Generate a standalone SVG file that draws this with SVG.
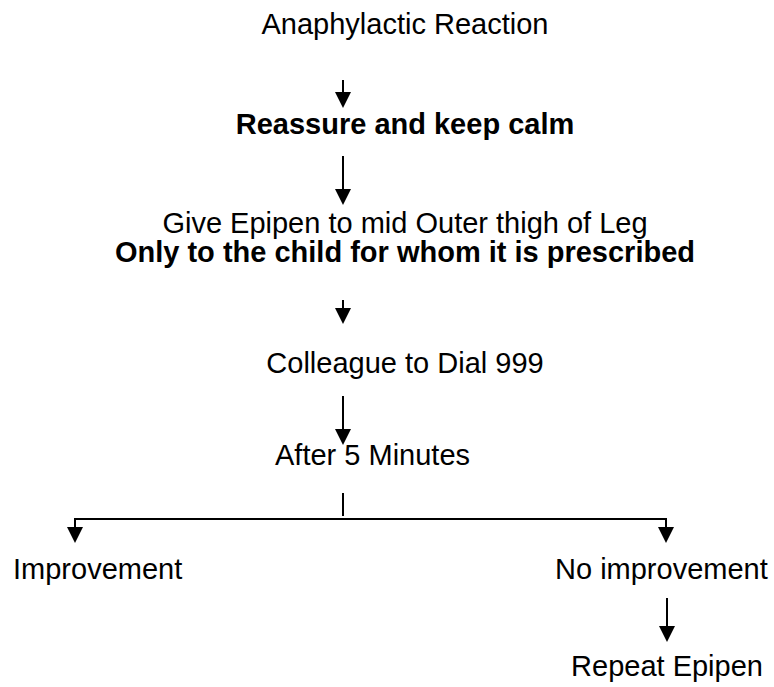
<svg xmlns="http://www.w3.org/2000/svg" width="774" height="687" viewBox="0 0 774 687">
<style>
text{font-family:"Liberation Sans",Arial,sans-serif;font-size:29px;fill:#000}
.b{font-weight:bold}
.c{text-anchor:middle}
.ln{stroke:#000;stroke-width:2;fill:none}
</style>
<defs>
<marker id="ah" markerUnits="userSpaceOnUse" viewBox="0 0 16 16" refX="0" refY="8" markerWidth="16" markerHeight="16" orient="auto">
<path d="M0,0 L16,8 L0,16 z" fill="#000"/>
</marker>
</defs>
<g id="n1"><text class="c" x="405" y="34">Anaphylactic Reaction</text></g>
<g id="n2"><text class="c b" x="405" y="134">Reassure and keep calm</text></g>
<g id="n3"><text class="c" x="405" y="233">Give Epipen to mid Outer thigh of Leg</text><text class="c b" x="405" y="262">Only to the child for whom it is prescribed</text></g>
<g id="n4"><text class="c" x="405" y="373">Colleague to Dial 999</text></g>
<g id="n5"><text x="275" y="465">After 5 Minutes</text></g>
<g id="n6"><text x="13" y="579">Improvement</text></g>
<g id="n7"><text x="555" y="579">No improvement</text></g>
<g id="n8"><text class="c" x="667" y="676">Repeat Epipen</text></g>
<g id="connectors">
<line class="ln" x1="343" y1="80" x2="343" y2="92" marker-end="url(#ah)"/>
<line class="ln" x1="343" y1="156" x2="343" y2="189" marker-end="url(#ah)"/>
<line class="ln" x1="343" y1="300" x2="343" y2="308" marker-end="url(#ah)"/>
<line class="ln" x1="343" y1="396" x2="343" y2="429" marker-end="url(#ah)"/>
<line class="ln" x1="343" y1="493" x2="343" y2="516"/>
<polyline class="ln" points="75,528 75,519 666,519 666,528"/>
<line class="ln" x1="75" y1="520" x2="75" y2="527" marker-end="url(#ah)"/>
<line class="ln" x1="666" y1="520" x2="666" y2="527" marker-end="url(#ah)"/>
<line class="ln" x1="667" y1="598" x2="667" y2="626" marker-end="url(#ah)"/>
</g>
</svg>
